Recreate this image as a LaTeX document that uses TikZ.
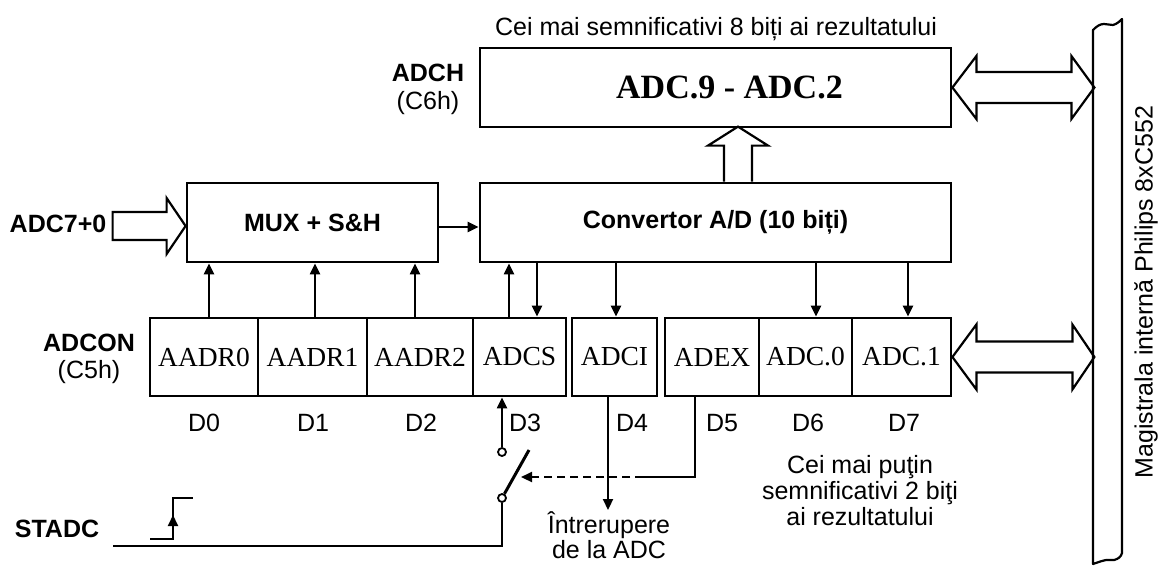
\documentclass[tikz,border=0pt]{standalone}
\usepackage{fontspec}
\setmainfont{Liberation Sans}
\newfontfamily\serifcell{Liberation Serif}
\usetikzlibrary{arrows.meta,calc}
\begin{document}
\begin{tikzpicture}[x=1pt,y=-1pt,
  box/.style={draw,line width=2.8pt,inner sep=0pt},
  cell/.style={draw,line width=2.8pt,inner sep=0pt,minimum height=78pt,font=\serifcell\fontsize{27.5}{30}\selectfont},
  lbl/.style={inner sep=0pt,font=\fontsize{25}{27}\selectfont},
  blbl/.style={inner sep=0pt,font=\bfseries\fontsize{25}{27}\selectfont},
  conn/.style={line width=2.2pt},
  arr/.style={line width=2.2pt,-{Triangle[length=11pt,width=10pt]}},
  hollow/.style={line width=2.2pt,line join=miter},
  swc/.style={circle,draw,line width=1.8pt,fill=white,inner sep=0pt,minimum size=8pt}
]
\useasboundingbox (0,0) rectangle (1159,566);

% top register
\node[lbl] (toptext) at (716,29) {Cei mai semnificativi 8 biți ai rezultatului};
\node[box,minimum width=471pt,minimum height=79pt,font=\serifcell\bfseries\fontsize{34}{36}\selectfont] (adch) at (715.5,87.5) {\hspace*{28pt}ADC.9 - ADC.2};
\node[blbl] (adchl) at (428,73) {ADCH};
\node[lbl] (adchaddr) at (428,103) {(C6h)};

% mux and converter
\node[box,minimum width=251pt,minimum height=79pt,font=\bfseries\fontsize{25}{27}\selectfont] (mux) at (312.5,222.5) {MUX + S\&H};
\node[box,minimum width=471pt,minimum height=79pt,font=\bfseries\fontsize{25}{27}\selectfont] (conv) at (715.5,222.5) {Convertor A/D (10 biți)};
\node[blbl] (adcin) at (58,224) {ADC7+0};

% ADCON cells
\node[cell,minimum width=108pt] (c0) at (204,357) {AADR0};
\node[cell,minimum width=109pt] (c1) at (312.5,357) {AADR1};
\node[cell,minimum width=106pt] (c2) at (420,357) {AADR2};
\node[cell,minimum width=93pt] (c3) at (519.5,357) {ADCS};
\node[cell,minimum width=85pt] (c4) at (614.5,357) {ADCI};
\node[cell,minimum width=94pt] (c5) at (712,357) {ADEX};
\node[cell,minimum width=93pt] (c6) at (805.5,357) {ADC.0};
\node[cell,minimum width=99pt] (c7) at (901.5,357) {ADC.1};
\node[blbl] (adconl) at (89,343) {ADCON};
\node[lbl] (adconaddr) at (89,372) {(C5h)};

% bit labels
\node[lbl] (d0) at (204,423) {D0};
\node[lbl] (d1) at (313,423) {D1};
\node[lbl] (d2) at (421,423) {D2};
\node[lbl] (d3) at (525,423) {D3};
\node[lbl] (d4) at (632,423) {D4};
\node[lbl] (d5) at (722,423) {D5};
\node[lbl] (d6) at (808,423) {D6};
\node[lbl] (d7) at (904,423) {D7};

\node[lbl,align=center,font=\fontsize{25}{26}\selectfont] (lsb) at (860,491) {Cei mai puţin\\semnificativi 2 biţi\\ai rezultatului};

% bus
\node[minimum width=29pt,minimum height=544pt,inner sep=0pt] (bus) at (1107.5,291) {};
\draw[line width=2.2pt,line join=round] (1093,564) -- (1093,30)
  .. controls (1097,26) and (1100,24) .. (1104,24) -- (1113,25)
  .. controls (1117,24) and (1120,21) .. (1122,19) -- (1122,553)
  .. controls (1121,557) and (1118,559) .. (1114,560) -- (1106,560)
  .. controls (1101,561) and (1096,563) .. (1093,564) -- cycle;
\node[lbl,rotate=90] (bustext) at (1146,292) {Magistrala internă Philips 8xC552};

% hollow arrows
\draw[hollow] ([yshift=-3.5pt]mux.west) -- ++(-19,-28) -- ++(0,14) -- ++(-54,0) -- ++(0,28) -- ++(54,0) -- ++(0,14) -- cycle;
\draw[hollow] ([xshift=8.5pt]conv.north) -- ++(0,-36) -- ++(-16,0) -- ++(30,-19) -- ++(30,19) -- ++(-16,0) -- ++(0,36);
\draw[hollow] (adch.east) -- ++(24,-31.5) -- ++(0,16) -- ++(95,0) -- ++(0,-16) -- ++(23,31.5) -- ++(-23,31.5) -- ++(0,-16) -- ++(-95,0) -- ++(0,16) -- cycle;
\draw[hollow] (c7.east) -- ++(24,-32.5) -- ++(0,17) -- ++(96,0) -- ++(0,-17) -- ++(22,32.5) -- ++(-22,32.5) -- ++(0,-17) -- ++(-96,0) -- ++(0,17) -- cycle;

% arrows between blocks
\draw[arr] ([yshift=-4.5pt]mux.east) -- ([yshift=-4.5pt]mux.east -| conv.west);
\draw[arr] ([xshift=5pt]c0.north) -- ([xshift=5pt]c0.north |- mux.south);
\draw[arr] ([xshift=2.5pt]c1.north) -- ([xshift=2.5pt]c1.north |- mux.south);
\draw[arr] ([xshift=-5pt]c2.north) -- ([xshift=-5pt]c2.north |- mux.south);
\draw[arr] ([xshift=-10.5pt]c3.north) -- ([xshift=-10.5pt]c3.north |- conv.south);
\draw[arr] ([xshift=17.5pt]c3.north |- conv.south) -- ([xshift=17.5pt]c3.north);
\draw[arr] ([xshift=1.5pt]c4.north |- conv.south) -- ([xshift=1.5pt]c4.north);
\draw[arr] ([xshift=10.5pt]c6.north |- conv.south) -- ([xshift=10.5pt]c6.north);
\draw[arr] ([xshift=6.5pt]c7.north |- conv.south) -- ([xshift=6.5pt]c7.north);

% switch and start logic
\coordinate (swtip) at (529,450);
\coordinate (stadcend) at (113,546);
\coordinate (dsolid) at (643,477);
\coordinate (dashend) at (521,477);
\coordinate (intrtip) at (608,510);
\node[swc] (sw1) at (502,452) {};
\node[swc] (sw2) at (502,498) {};
\draw[arr] (sw1.north) -- (sw1.north |- c3.south);
\draw[line width=3pt] (sw2.60) -- (swtip);
\draw[line width=2.5pt] (sw2.south) -- (sw2.south |- stadcend) -- (stadcend);
\draw[conn] ([xshift=-17pt]c5.south) -- ([xshift=-17pt]c5.south |- dsolid) -- (dsolid);
\draw[arr,dash pattern=on 8pt off 5pt] (dsolid) -- (dashend);
\draw[arr] ([xshift=-6.5pt]c4.south) -- (intrtip);
\node[lbl,align=center,font=\fontsize{25}{25}\selectfont] (intr) at (609,535) {Întrerupere\\de la ADC};

\node[blbl] (stadc) at (57,529) {STADC};
\draw[line width=2.2pt] (150,539) -- (173,539) -- (173,498) -- (193,498);
\draw[arr] (173,536) -- (173,515);
\end{tikzpicture}
\end{document}
